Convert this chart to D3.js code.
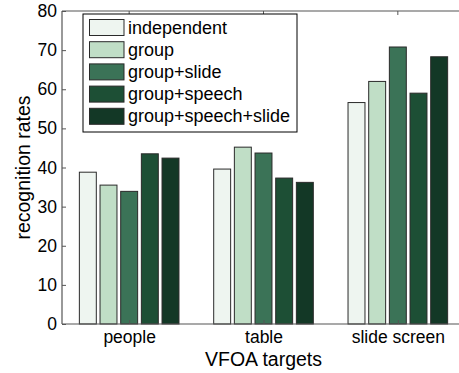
<!DOCTYPE html>
<html>
<head>
<meta charset="utf-8">
<script src="https://cdn.jsdelivr.net/npm/d3@7"></script>
<style>
  html, body { margin: 0; padding: 0; background: #fff; }
  svg { display: block; font-family: "Liberation Sans", Arial, Helvetica, sans-serif; }
</style>
</head>
<body>
<svg id="chart" width="459" height="373"></svg>
<script>
// Recognition rates per VFOA target, one series per fusion setting
const categories = ["people", "table", "slide screen"];
const seriesNames = ["independent", "group", "group+slide", "group+speech", "group+speech+slide"];
const seriesColors = ["#eef5f0", "#c0dec6", "#3b7357", "#1d4f35", "#133826"];
const independent = [38.8, 39.6, 56.6];
const group = [35.5, 45.2, 62.0];
const groupSlide = [33.9, 43.7, 70.8];
const groupSpeech = [43.5, 37.3, 59.0];
const groupSpeechSlide = [42.4, 36.2, 68.3];
const yTicks = [0, 10, 20, 30, 40, 50, 60, 70, 80];

const seriesValues = [independent, group, groupSlide, groupSpeech, groupSpeechSlide];

const svg = d3.select("#chart");
const plot = { left: 62, right: 465, top: 11, bottom: 324 };

// Category positions 1..n, MATLAB-style limits [0.5, n+0.5]
const x = d3.scaleLinear()
  .domain([0.5, categories.length + 0.5])
  .range([plot.left, plot.right]);
const y = d3.scaleLinear().domain([0, 80]).range([plot.bottom, plot.top]);

const nSeries = seriesNames.length;
const groupWidth = nSeries / (nSeries + 1.5);
const slot = groupWidth / nSeries;
const barW = slot * 0.82;

// Bars
seriesValues.forEach((vals, si) => {
  svg.append("g").selectAll("rect")
    .data(vals)
    .join("rect")
    .attr("x", (d, ci) => x(ci + 1 + (si - (nSeries - 1) / 2) * slot - barW / 2))
    .attr("y", d => y(d))
    .attr("width", x(barW) - x(0))
    .attr("height", d => y(0) - y(d))
    .attr("fill", seriesColors[si])
    .attr("stroke", "#2a2a2a")
    .attr("stroke-width", 1);
});

// Frame (left, top, bottom) with inward ticks
const frame = svg.append("g").attr("stroke", "#555").attr("stroke-width", 1.2).attr("fill", "none");
frame.append("line").attr("x1", plot.left).attr("x2", plot.left).attr("y1", plot.top).attr("y2", plot.bottom);
frame.append("line").attr("x1", plot.left).attr("x2", plot.right).attr("y1", plot.top).attr("y2", plot.top);
frame.append("line").attr("x1", plot.left).attr("x2", plot.right).attr("y1", plot.bottom).attr("y2", plot.bottom);

// Y axis
const yAxis = d3.axisLeft(y).tickValues(yTicks).tickSizeInner(-4).tickSizeOuter(0).tickPadding(5);
const yg = svg.append("g").attr("transform", `translate(${plot.left},0)`).call(yAxis);
yg.select(".domain").remove();
yg.selectAll(".tick line").attr("stroke", "#555");
yg.selectAll(".tick text").attr("font-size", 17.5).attr("fill", "#000")
  .attr("font-family", "Liberation Sans, Arial, sans-serif");

// X axis
const xAxis = d3.axisBottom(x).tickValues(categories.map((c, i) => i + 1))
  .tickFormat((d, i) => categories[i]).tickSizeInner(-4).tickSizeOuter(0).tickPadding(7);
const xg = svg.append("g").attr("transform", `translate(0,${plot.bottom})`).call(xAxis);
xg.select(".domain").remove();
xg.selectAll(".tick line").attr("stroke", "#555");
xg.selectAll(".tick text").attr("font-size", 17.5).attr("fill", "#000")
  .attr("font-family", "Liberation Sans, Arial, sans-serif");

// Top-edge ticks at category positions
svg.append("g").selectAll("line")
  .data(categories)
  .join("line")
  .attr("x1", (d, i) => x(i + 1)).attr("x2", (d, i) => x(i + 1))
  .attr("y1", plot.top).attr("y2", plot.top + 4)
  .attr("stroke", "#555");

// Axis titles
svg.append("text")
  .attr("x", (plot.left + plot.right) / 2)
  .attr("y", 366)
  .attr("text-anchor", "middle")
  .attr("font-size", 19.5)
  .text("VFOA targets");

svg.append("text")
  .attr("transform", `translate(30,${(plot.top + plot.bottom) / 2}) rotate(-90)`)
  .attr("text-anchor", "middle")
  .attr("font-size", 19.5)
  .text("recognition rates");

// Legend
const legend = svg.append("g");
legend.append("rect")
  .attr("x", 83).attr("y", 14).attr("width", 214).attr("height", 118)
  .attr("fill", "#fff").attr("stroke", "#000").attr("stroke-width", 1);
const rows = legend.selectAll("g.row")
  .data(seriesNames)
  .join("g")
  .attr("class", "row")
  .attr("transform", (d, i) => `translate(0,${19.5 + i * 22.2})`);
rows.append("rect")
  .attr("x", 89.5).attr("y", 0).attr("width", 34.5).attr("height", 16)
  .attr("fill", (d, i) => seriesColors[i])
  .attr("stroke", "#2a2a2a").attr("stroke-width", 1);
rows.append("text")
  .attr("x", 128).attr("y", 14)
  .attr("font-size", 18)
  .text(d => d);
</script>
</body>
</html>
